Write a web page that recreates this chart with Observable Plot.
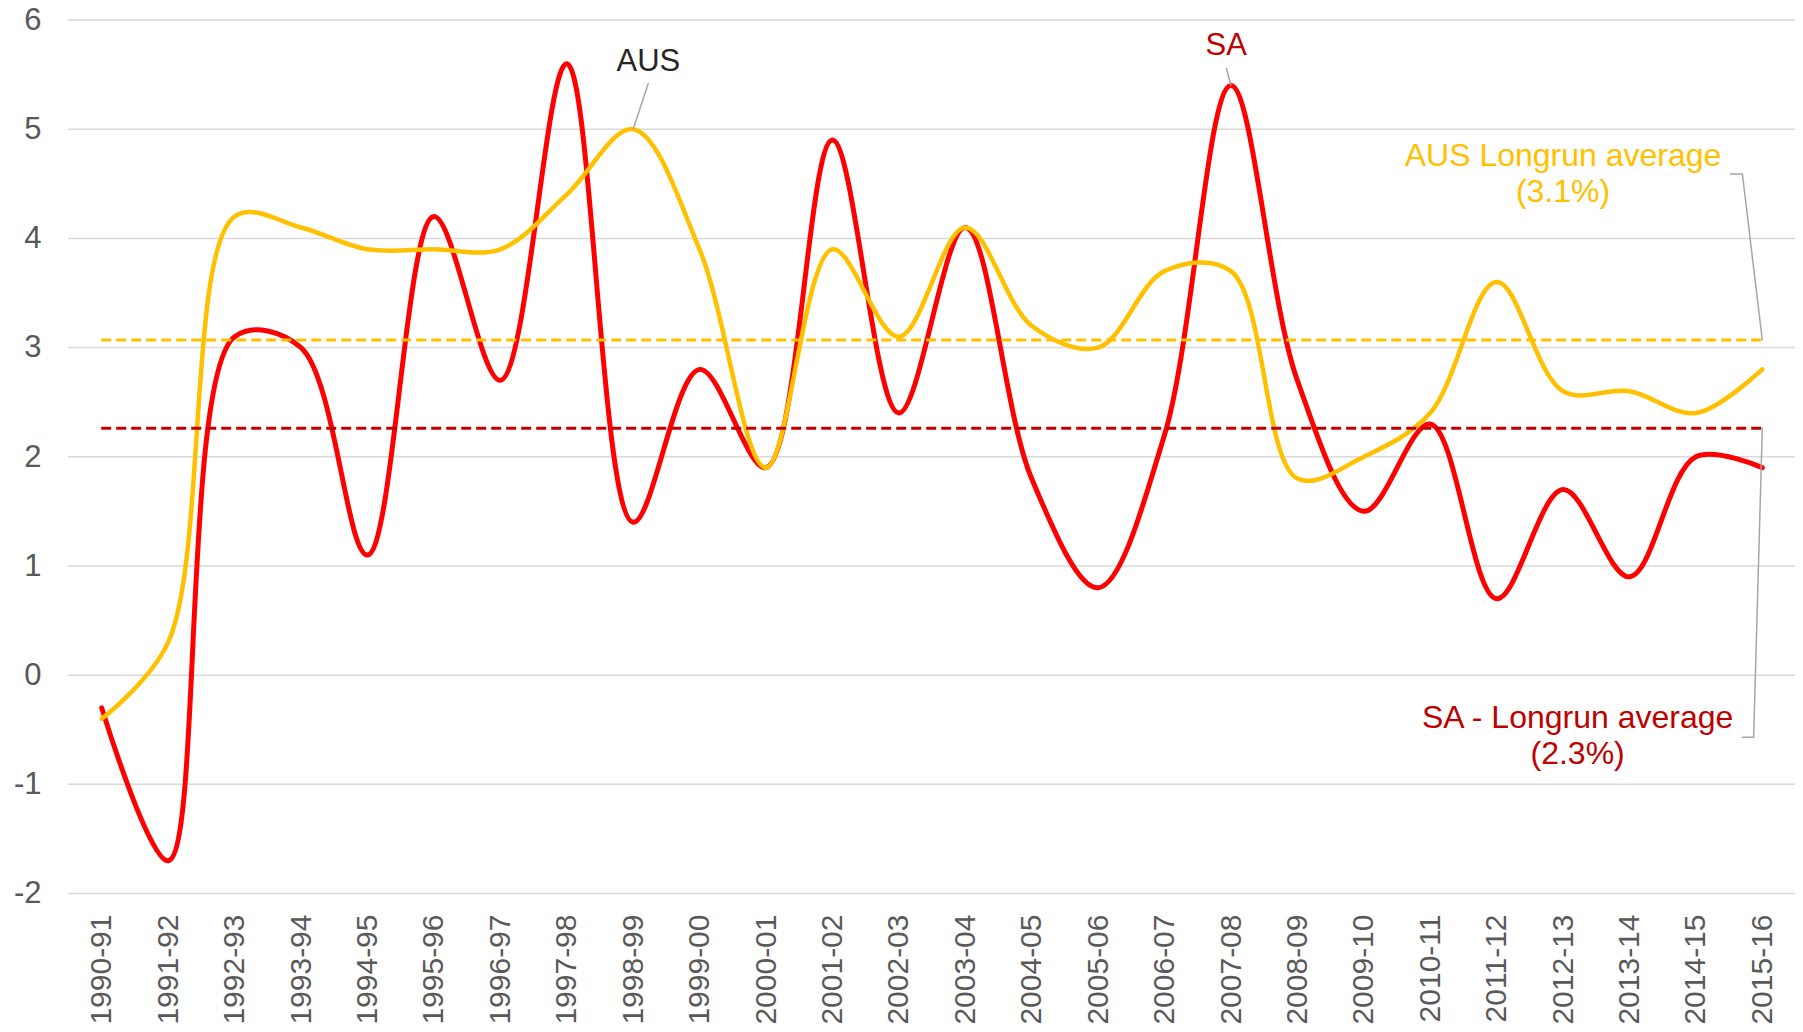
<!DOCTYPE html>
<html>
<head>
<meta charset="utf-8">
<script src="https://cdn.jsdelivr.net/npm/d3@7"></script>
<script src="https://cdn.jsdelivr.net/npm/@observablehq/plot@0.6"></script>
<style>
  html, body { margin: 0; padding: 0; background: #ffffff; }
  #chart svg { display: block; }
</style>
</head>
<body>
<div id="chart"></div>
<script>
// ---- Data ----
const categories = ["1990-91","1991-92","1992-93","1993-94","1994-95","1995-96","1996-97","1997-98","1998-99","1999-00","2000-01","2001-02","2002-03","2003-04","2004-05","2005-06","2006-07","2007-08","2008-09","2009-10","2010-11","2011-12","2012-13","2013-14","2014-15","2015-16"];
const saValues  = [-0.3, -1.7, 3.1, 3.0, 1.1, 4.2, 2.7, 5.6, 1.4, 2.8, 1.9, 4.9, 2.4, 4.1, 1.8, 0.8, 2.2, 5.4, 2.7, 1.5, 2.3, 0.7, 1.7, 0.9, 2.0, 1.9];
const ausValues = [-0.4, 0.3, 4.2, 4.1, 3.9, 3.9, 3.9, 4.4, 5.0, 3.9, 1.9, 3.9, 3.1, 4.1, 3.2, 3.0, 3.7, 3.7, 1.8, 2.0, 2.4, 3.6, 2.6, 2.6, 2.4, 2.8];
const ausLongrunAvg = 3.07;
const saLongrunAvg = 2.26;
const yTicks = [-2, -1, 0, 1, 2, 3, 4, 5, 6];

// ---- Tables built from the arrays ----
const idx = categories.map((_, i) => i);
const sa = idx.map(i => ({i, v: saValues[i]}));
const aus = idx.map(i => ({i, v: ausValues[i]}));
const last = categories.length - 1;
const ausPeak = 8, saPeak = 17;

const font = "'Liberation Sans', Arial, Helvetica, sans-serif";
const leader = "#A6A6A6";

const chart = Plot.plot({
  width: 1803,
  height: 1032,
  marginLeft: 68,
  marginRight: 8,
  marginTop: 19.5,
  marginBottom: 139,
  style: {fontFamily: font, fontSize: "30px", color: "#595959", background: "#ffffff"},
  x: {domain: [-0.5, last + 0.5], label: null},
  y: {domain: [-2, 6], label: null},
  marks: [
    Plot.ruleY(yTicks, {stroke: "#D9D9D9", strokeWidth: 1.5}),
    Plot.axisY({ticks: yTicks, tickFormat: d => String(d), tickSize: 0, tickPadding: 27, fontSize: 31, fill: "#595959", label: null}),
    Plot.axisX({ticks: idx, tickFormat: i => categories[i], tickRotate: -90, tickSize: 0, tickPadding: 21, fontSize: 30, fill: "#595959", label: null}),
    Plot.line(sa, {x: "i", y: "v", stroke: "#FF0000", strokeWidth: 5, curve: "catmull-rom", strokeLinecap: "round", strokeLinejoin: "round"}),
    Plot.line(aus, {x: "i", y: "v", stroke: "#FFC000", strokeWidth: 4.5, curve: "catmull-rom", strokeLinecap: "round", strokeLinejoin: "round"}),
    Plot.ruleY([saLongrunAvg], {x1: 0, x2: last, stroke: "#C00000", strokeWidth: 3, strokeDasharray: "10,5"}),
    Plot.ruleY([ausLongrunAvg], {x1: 0, x2: last, stroke: "#FFC000", strokeWidth: 3, strokeDasharray: "10,5"}),
    // series labels with leader lines
    Plot.link([0], {x1: ausPeak + 0.23, y1: ausValues[ausPeak] + 0.42, x2: ausPeak, y2: ausValues[ausPeak], stroke: leader, strokeWidth: 1.5}),
    Plot.text(["AUS"], {x: ausPeak + 0.23, y: ausValues[ausPeak] + 0.625, text: d => d, fill: "#262626", fontSize: 31, textAnchor: "middle", lineAnchor: "middle"}),
    Plot.link([0], {x1: saPeak - 0.07, y1: saValues[saPeak] + 0.16, x2: saPeak, y2: saValues[saPeak], stroke: leader, strokeWidth: 1.5}),
    Plot.text(["SA"], {x: saPeak - 0.07, y: saValues[saPeak] + 0.37, text: d => d, fill: "#C00000", fontSize: 31, textAnchor: "middle", lineAnchor: "middle"}),
    // long-run average labels with bracket leaders
    Plot.line([[last - 0.48, ausLongrunAvg + 1.52], [last - 0.30, ausLongrunAvg + 1.52], [last, ausLongrunAvg]], {stroke: leader, strokeWidth: 1.5}),
    Plot.text(["AUS Longrun average\n(3.1%)"], {x: last - 3, y: ausLongrunAvg + 1.535, text: d => d, fill: "#FFC000", fontSize: 32, lineHeight: 1.14, textAnchor: "middle", lineAnchor: "middle"}),
    Plot.line([[last - 0.30, saLongrunAvg - 2.83], [last - 0.13, saLongrunAvg - 2.83], [last, saLongrunAvg]], {stroke: leader, strokeWidth: 1.5}),
    Plot.text(["SA - Longrun average\n(2.3%)"], {x: last - 2.78, y: saLongrunAvg - 2.80, text: d => d, fill: "#C00000", fontSize: 32, lineHeight: 1.14, textAnchor: "middle", lineAnchor: "middle"})
  ]
});
document.getElementById("chart").appendChild(chart);
</script>
</body>
</html>
